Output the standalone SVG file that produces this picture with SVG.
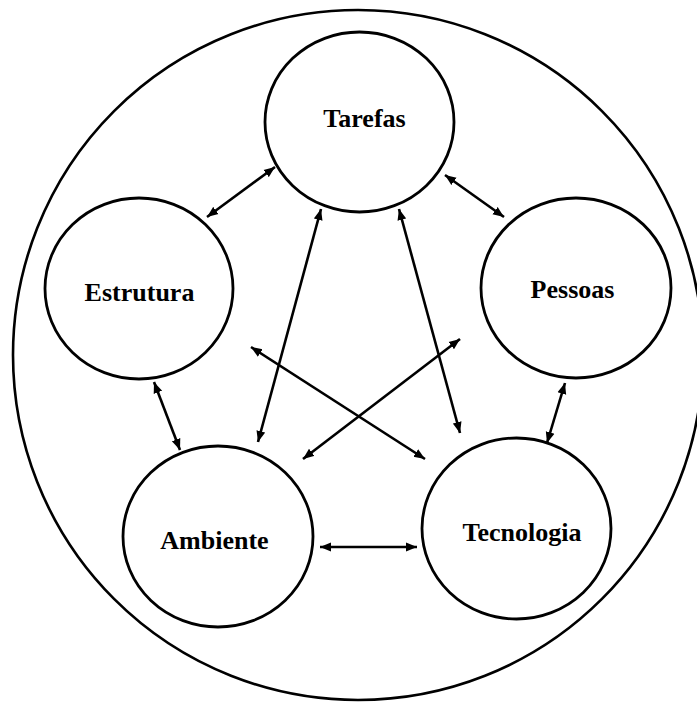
<svg xmlns="http://www.w3.org/2000/svg" width="697" height="702" viewBox="0 0 697 702">
<style>
.node{fill:#fff;stroke:#000;stroke-width:2.8}
.outer{fill:#fff;stroke:#000;stroke-width:2.6}
.lbl{font-family:"Liberation Serif","Times New Roman",serif;font-weight:bold;font-size:26px;text-anchor:middle;fill:#000}
.c line{stroke:#000;stroke-width:2.6;marker-start:url(#ah);marker-end:url(#ah)}
</style>
<defs>
<marker id="ah" markerUnits="userSpaceOnUse" markerWidth="12" markerHeight="10" refX="11" refY="5" orient="auto-start-reverse">
<path d="M0,0.5 L11,5 L0,9.5 z" fill="#000"/>
</marker>
</defs>
<rect width="697" height="702" fill="#fff"/>
<circle class="outer" cx="358" cy="355" r="345"/>
<g id="tarefas"><ellipse class="node" cx="359.5" cy="122" rx="94.5" ry="90"/><text class="lbl" x="364.5" y="127">Tarefas</text></g>
<g id="estrutura"><ellipse class="node" cx="139" cy="288.5" rx="94" ry="90.5"/><text class="lbl" x="139.5" y="301">Estrutura</text></g>
<g id="pessoas"><ellipse class="node" cx="576" cy="288" rx="95" ry="90"/><text class="lbl" x="572.5" y="298">Pessoas</text></g>
<g id="ambiente"><ellipse class="node" cx="218" cy="536.5" rx="95" ry="90.5"/><text class="lbl" x="214.5" y="549">Ambiente</text></g>
<g id="tecnologia"><ellipse class="node" cx="516.5" cy="528.5" rx="94.5" ry="90.5"/><text class="lbl" x="522" y="541">Tecnologia</text></g>
<g class="c" id="connectors">
<line x1="275" y1="167" x2="207" y2="217"/>
<line x1="445" y1="175" x2="504" y2="217"/>
<line x1="321" y1="209" x2="258" y2="442"/>
<line x1="399" y1="209" x2="460" y2="433"/>
<line x1="154" y1="382" x2="180" y2="450"/>
<line x1="565" y1="383" x2="547" y2="443"/>
<line x1="320" y1="547" x2="417" y2="547"/>
<line x1="251" y1="347" x2="425" y2="459"/>
<line x1="460" y1="339" x2="303" y2="459"/>
</g>
</svg>
